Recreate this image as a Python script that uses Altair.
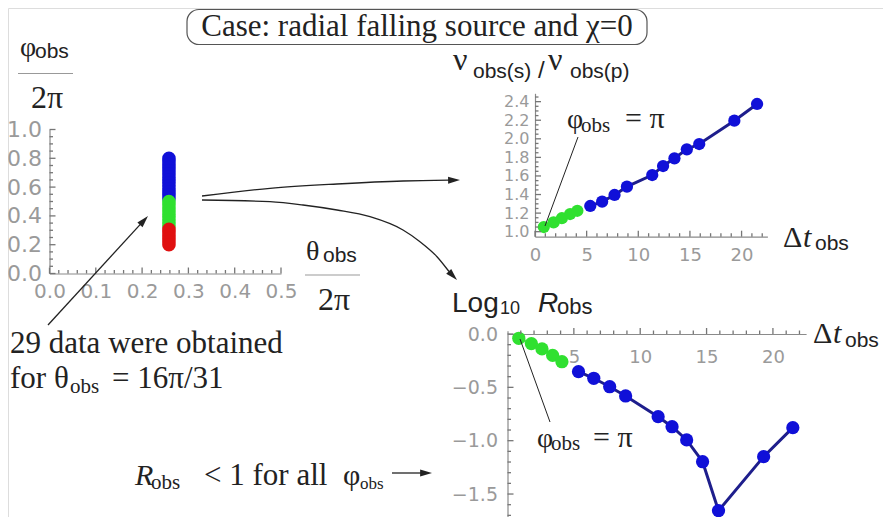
import math
import altair as alt
import pandas as pd

# ---------------- data ----------------
# left panel: theta_obs/2pi and phi_obs/2pi of the 29 data
theta_obs = 0.258
phi_obs = [0.800, 0.779, 0.757, 0.736, 0.714, 0.693, 0.671, 0.650, 0.629, 0.607,
           0.586, 0.564, 0.543, 0.521,
           0.500, 0.479, 0.457, 0.436, 0.414, 0.393, 0.371, 0.350, 0.329,
           0.307, 0.286, 0.264, 0.243, 0.221, 0.200]
phi_group = ["blue"] * 14 + ["green"] * 9 + ["red"] * 6

# right panels: Delta t_obs, frequency ratio, log10 R_obs
dt_green = [0.85, 1.8, 2.6, 3.4, 4.1]
ratio_green = [1.05, 1.10, 1.145, 1.19, 1.225]
logR_green = [-0.04, -0.09, -0.14, -0.20, -0.26]
dt_blue = [5.35, 6.5, 7.7, 8.9, 11.35, 12.4, 13.5, 14.7, 15.9, 19.3, 21.5]
ratio_blue = [1.277, 1.323, 1.395, 1.485, 1.61, 1.707, 1.79, 1.887, 1.944, 2.195, 2.375]
logR_blue = [-0.353, -0.415, -0.494, -0.581, -0.775, -0.869, -0.993, -1.197, -1.656, -1.15, -0.878]

# tick labels
left_x_ticks = [0.0, 0.1, 0.2, 0.3, 0.4, 0.5]
left_y_ticks = [0.0, 0.2, 0.4, 0.6, 0.8, 1.0]
tr_x_ticks = [0, 5, 10, 15, 20]
tr_y_ticks = [1.0, 1.2, 1.4, 1.6, 1.8, 2.0, 2.2, 2.4]
br_x_ticks = [5, 10, 15, 20]
br_y_ticks = [0.0, -0.5, -1.0, -1.5]

# ---------------- style ----------------
W, H = 875, 509
SERIF = "Liberation Serif"
SANS = "Liberation Sans"
TICKF = "DejaVu Sans"
INK = "#222222"
AXC = "#8a8a8a"
TKC = "#767676"
LBC = "#9a9a9a"
PT_DOM = ["red", "green", "blue"]
PT_RNG = ["#e01010", "#30e030", "#1010d8"]
LN_DOM = ["green", "blue"]
LN_RNG = ["#60e060", "#1e1e8c"]

ONE = pd.DataFrame({"k": [0]})


def minor(lo, hi, step, skip):
    out = []
    v = lo
    while v <= hi + 1e-9:
        if all(abs(v - s) > 1e-6 for s in skip):
            out.append(round(v, 4))
        v += step
    return out


df_left = pd.DataFrame({"theta": [theta_obs] * len(phi_obs), "phi": phi_obs, "grp": phi_group})
df_right = pd.DataFrame({
    "dt": dt_green + dt_blue,
    "ratio": ratio_green + ratio_blue,
    "logR": logR_green + logR_blue,
    "grp": ["green"] * len(dt_green) + ["blue"] * len(dt_blue),
})


def label_axis(orient, offset, values, fmt, fsize, pad):
    return alt.Axis(orient=orient, offset=offset, values=values, format=fmt, title=None,
                    grid=False, ticks=False, domain=True, domainColor=AXC, domainWidth=1.2,
                    labelColor=LBC, labelFont=TICKF, labelFontSize=fsize, labelPadding=pad,
                    labelFlush=False, labelOverlap=False)


def panel(df, xf, yf, xd, xr, yd, yr, x_at, y_at, xv, yv, xmin, ymin, xfmt, yfmt, xfs, yfs,
          xpad, ypad, dot, with_line):
    """x_at / y_at: data values where the y-axis / x-axis lines sit (Mathematica-style axes)."""
    sx = alt.Scale(domain=xd, range=xr, nice=False, zero=False)
    sy = alt.Scale(domain=yd, range=yr, nice=False, zero=False)
    kx = (xr[1] - xr[0]) / (xd[1] - xd[0])   # px per x unit
    ky = (yr[0] - yr[1]) / (yd[1] - yd[0])   # px per y unit
    ax_x = xr[0] + (x_at - xd[0]) * kx
    ax_y = yr[0] - (y_at - yd[0]) * ky
    layers = []
    base = alt.Chart(df)
    if with_line:
        layers.append(base.mark_line(strokeWidth=3).encode(
            x=alt.X(f"{xf}:Q", scale=sx, axis=None),
            y=alt.Y(f"{yf}:Q", scale=sy, axis=None),
            color=alt.Color("grp:N", scale=alt.Scale(domain=LN_DOM, range=LN_RNG), legend=None),
            detail="grp:N"))
    layers.append(base.mark_circle(size=dot, opacity=1).encode(
        x=alt.X(f"{xf}:Q", scale=sx, axis=label_axis("bottom", ax_y - H, xv, xfmt, xfs, xpad)),
        y=alt.Y(f"{yf}:Q", scale=sy, axis=label_axis("left", -ax_x, yv, yfmt, yfs, ypad)),
        color=alt.Color("grp:N", scale=alt.Scale(domain=PT_DOM, range=PT_RNG), legend=None)))
    # inward major / minor ticks drawn through the panel scales
    for vals, ln in ((xv, 6), (xmin, 3.5)):
        d = pd.DataFrame({"v": vals, "a": [y_at] * len(vals), "b": [y_at + ln / ky] * len(vals)})
        layers.append(alt.Chart(d).mark_rule(color=TKC, strokeWidth=1.3).encode(
            x=alt.X("v:Q", scale=sx, axis=None),
            y=alt.Y("a:Q", scale=sy, axis=None), y2="b:Q"))
    for vals, ln in ((yv, 6), (ymin, 3.5)):
        d = pd.DataFrame({"v": vals, "a": [x_at] * len(vals), "b": [x_at + ln / kx] * len(vals)})
        layers.append(alt.Chart(d).mark_rule(color=TKC, strokeWidth=1.3).encode(
            y=alt.Y("v:Q", scale=sy, axis=None),
            x=alt.X("a:Q", scale=sx, axis=None), x2="b:Q"))
    return layers


# ---------------- annotation helpers (page coordinates) ----------------
def txt(s, x, y, size, font=SERIF, style="normal", align="left", color=INK):
    return alt.Chart(ONE).mark_text(text=s, font=font, fontSize=size, fontStyle=style,
                                    align=align, baseline="alphabetic", color=color).encode(
        x=alt.value(x - 8), y=alt.value(y - 8))


def seg(x1, y1, x2, y2, color=INK, w=1.3):
    return alt.Chart(ONE).mark_rule(color=color, strokeWidth=w).encode(
        x=alt.value(x1 - 8), y=alt.value(y1 - 8), x2=alt.value(x2 - 8), y2=alt.value(y2 - 8))


HEAD = "M0,-1L0.5,0.7L-0.5,0.7Z"


def head(tx, ty, angle):
    r = math.radians(angle)
    ux, uy = math.sin(r), -math.cos(r)
    cx, cy = tx - 7 * ux, ty - 7 * uy
    return alt.Chart(ONE).mark_point(shape=HEAD, filled=True, color=INK, opacity=1, size=196,
                                     angle=angle, strokeWidth=0).encode(
        x=alt.value(cx - 8), y=alt.value(cy - 8))


def curve(pts):
    d = pd.DataFrame({"px": [p[0] - 8 for p in pts], "py": [p[1] - 8 for p in pts]})
    return alt.Chart(d).mark_line(color=INK, strokeWidth=1.3, interpolate="monotone").encode(
        x=alt.X("px:Q", scale=None, axis=None), y=alt.Y("py:Q", scale=None, axis=None))


# ---------------- panels ----------------
layers = []
# left: phi_obs/2pi vs theta_obs/2pi
layers += panel(df_left, "theta", "phi",
                [0, 0.5], [41.5, 273], [0, 1], [265.5, 121.5], 0, 0,
                left_x_ticks, left_y_ticks,
                minor(0, 0.5, 0.02, left_x_ticks), minor(0, 1, 0.05, left_y_ticks),
                ".1f", ".1f", 20, 22, 8, 8, 185, False)
# top right: frequency ratio vs Delta t
layers += panel(df_right, "dt", "ratio",
                [0, 22.5], [527, 759.4], [0.946, 2.49], [228.7, 85.3], 0, 0.946,
                tr_x_ticks, tr_y_ticks,
                minor(1, 22, 1, tr_x_ticks), minor(1.0, 2.45, 0.05, tr_y_ticks),
                "d", ".1f", 18, 16, 10, 6, 150, True)
# bottom right: log10 R vs Delta t
layers += panel(df_right, "dt", "logR",
                [0, 22.5], [499.5, 798.1], [-1.75, 0.03], [512.7, 322.8], 0, 0,
                br_x_ticks, br_y_ticks,
                minor(1, 22, 1, br_x_ticks), minor(-1.7, 0.0, 0.1, br_y_ticks),
                "d", ".1f", 18, 19, 14, 10, 175, True)

# ---------------- annotations ----------------
ann = []
# title box
ann.append(alt.Chart(ONE).mark_rect(cornerRadius=12, fillOpacity=0, stroke="#555555",
                                    strokeWidth=1.2).encode(
    x=alt.value(187 - 8), x2=alt.value(647 - 8), y=alt.value(9.5 - 8), y2=alt.value(44.5 - 8)))
ann.append(txt("Case: radial falling source and χ=0", 417, 36, 31, align="center"))

# left y title
ann += [txt("φ", 20, 55.5, 28), txt("obs", 35, 58, 21, SANS),
        seg(18, 73.5, 73, 73.5, "#999999", 1), txt("2π", 47, 108, 32, align="center")]
# left x title
ann += [txt("θ", 306, 259.5, 28), txt("obs", 323, 261.5, 21, SANS),
        seg(305, 275, 360, 275, "#999999", 1), txt("2π", 334, 309.5, 32, align="center")]
# top-right y title
ann += [txt("ν", 453, 70, 32), txt("obs(s)", 473, 77.5, 21, SANS),
        txt("/", 538, 78, 24, SANS), txt("ν", 548, 70, 32), txt("obs(p)", 570, 77.5, 21, SANS)]
# top-right phi = pi
ann += [txt("φ", 567, 128, 28), txt("obs", 581, 131.5, 21), txt("= π", 625, 128, 30),
        seg(578, 137, 545, 226, INK, 1)]
# top-right x title
ann += [txt("Δ", 783, 247, 30), txt("t", 803, 247, 30, style="italic"),
        txt("obs", 815, 250, 21, SANS)]
# bottom-right y title
ann += [txt("Log", 452, 311.5, 28, SANS), txt("10", 500, 313.5, 18, SANS),
        txt("R", 538, 311.5, 28, SANS, "italic"), txt("obs", 557, 313.5, 22, SANS)]
# bottom-right x title
ann += [txt("Δ", 813, 343, 30), txt("t", 833, 343, 30, style="italic"),
        txt("obs", 845, 347, 21, SANS)]
# bottom-right phi = pi
ann += [txt("φ", 537, 446.5, 28), txt("obs", 551, 450, 21), txt("= π", 593, 446.5, 30),
        seg(550, 422, 520, 339, INK, 1)]
# left notes
ann += [txt("29 data were obtained", 10, 353, 31),
        txt("for θ", 10, 388, 31), txt("obs", 70, 393, 21), txt("= 16π/31", 112, 388, 31)]
ann += [txt("R", 135, 485, 30, style="italic"), txt("obs", 151, 488.5, 21),
        txt("< 1 for all", 204, 485, 31), txt("φ", 343, 485, 30), txt("obs", 360, 488.5, 17)]
# arrows
ann += [seg(392, 473, 422, 473), head(432, 473, 90)]
ann += [seg(48, 325, 141.9, 222.6), head(148, 216, 42.5)]
ann += [curve([(202, 196), (270, 188.3), (337, 184), (403, 181), (449, 180.2)]),
        head(460, 180, 89)]
ann += [curve([(202, 200), (270, 201.7), (303, 205), (337, 210), (370, 216.7), (403, 230),
               (420, 241.7), (437, 256.7), (449, 271.5)]),
        head(457, 280, 136)]

chart = alt.layer(*(layers + ann)).resolve_scale(
    x="independent", y="independent", color="independent"
).resolve_axis(
    x="independent", y="independent"
).properties(
    width=W, height=H, padding=0, autosize=alt.AutoSizeParams(type="none")
).configure_view(strokeWidth=0).configure(background="white")

chart.save("out.html", embed_options={"renderer": "svg", "actions": False})
